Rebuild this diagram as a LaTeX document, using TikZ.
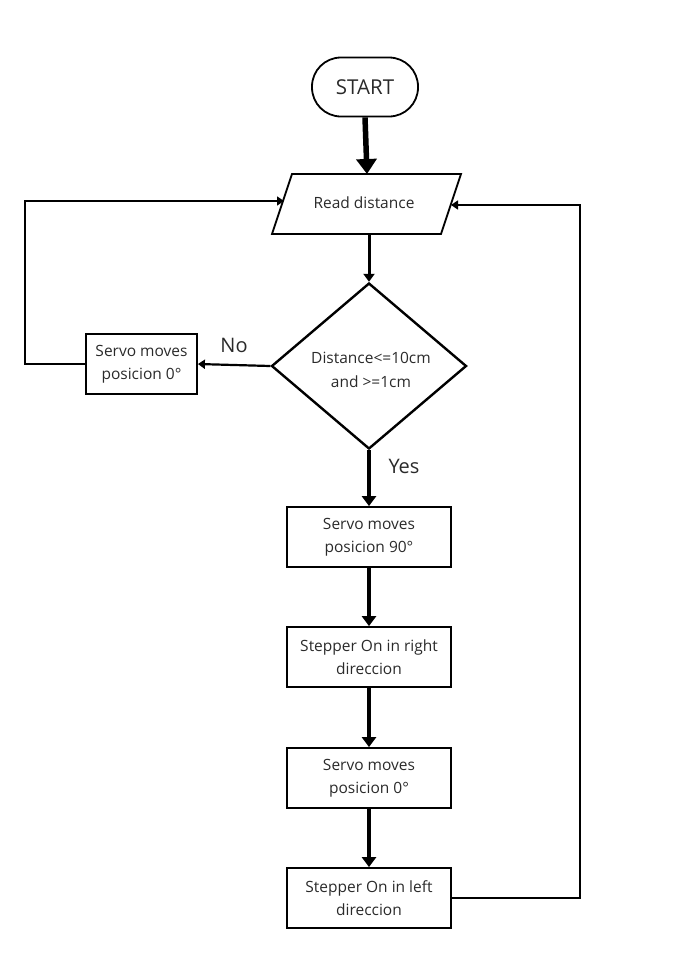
\documentclass[tikz,border=0pt]{standalone}
\usepackage{fontspec}
\setmainfont{Open Sans}
\usetikzlibrary{arrows.meta,shapes.geometric,calc}
\definecolor{txt}{HTML}{2A2A2A}
\tikzset{
  boxst/.style={draw, line width=1.8pt, minimum width=164pt, minimum height=60pt, inner sep=0pt, align=center, text=txt, font=\fontsize{15.5}{23}\selectfont},
  lbl/.style={text=txt, font=\fontsize{20}{22}\selectfont, inner sep=0pt},
  flow/.style={line width=3.6pt, -{Triangle[width=14pt,length=10pt]}},
  thinarr/.style={line width=1.6pt, -{Triangle[width=9pt,length=7pt]}}
}
\begin{document}
\begin{tikzpicture}[x=1pt,y=-1pt]
\useasboundingbox (0,0) rectangle (680,962);
% START
\node[draw, line width=1.8pt, rounded corners=29pt, minimum width=106pt, minimum height=59pt, inner sep=0pt, text=txt, font=\fontsize{20.5}{22}\selectfont] (start) at (365,87) {START};
% Read distance parallelogram
\coordinate (rtl) at (292,174);
\coordinate (rtr) at (461,174);
\coordinate (rbr) at (441,234);
\coordinate (rbl) at (272,234);
\draw[line width=1.8pt, line join=miter] (rtl) -- (rtr) -- (rbr) -- (rbl) -- cycle;
\node[text=txt, font=\fontsize{15.5}{22}\selectfont, inner sep=0pt] (read) at (364,203) {Read distance};
\coordinate (readtop) at (367,174);
\coordinate (readbot) at (369,234);
\coordinate (readL) at (284,201);
\coordinate (readR) at (451,205);
% Decision
\node[draw, diamond, line width=2.4pt, minimum width=195pt, minimum height=166pt, inner sep=0pt, text=txt] (dec) at (369,366) {};
\node[align=center, text=txt, font=\fontsize{15.5}{24}\selectfont, inner sep=0pt] (dectext) at (371,370) {Distance<=10cm\\and >=1cm};
% Left servo box
\node[boxst, minimum width=111pt] (sl) at (141.5,364) {Servo moves\\posicion 0°};
% Main chain
\node[boxst] (b1) at (369,537) {Servo moves\\posicion 90°};
\node[boxst] (b2) at (369,657) {Stepper On in right\\direccion};
\node[boxst] (b3) at (369,778) {Servo moves\\posicion 0°};
\node[boxst] (b4) at (369,898) {Stepper On in left\\direccion};
% Labels
\node[lbl] (no) at (234,345) {No};
\node[lbl] (yes) at (404,466) {Yes};
% Connectors
\draw[line width=5.5pt, -{Triangle[width=20pt,length=15pt]}] (start.south) -- (readtop);
\draw[line width=3pt, -{Triangle[width=11pt,length=8pt]}] (readbot) -- (dec.north);
\draw[thinarr, line width=2.2pt] (dec.west) -- (sl.east);
\draw[flow] (dec.south) -- (b1.north);
\draw[flow] (b1.south) -- (b2.north);
\draw[flow] (b2.south) -- (b3.north);
\draw[flow] (b3.south) -- (b4.north);
\coordinate (lc) at (25,201);
\coordinate (rc) at (580,205);
\draw[thinarr] (sl.west) -| (lc) -- (readL);
\draw[thinarr] (b4.east) -| (rc) -- (readR);
\end{tikzpicture}
\end{document}
